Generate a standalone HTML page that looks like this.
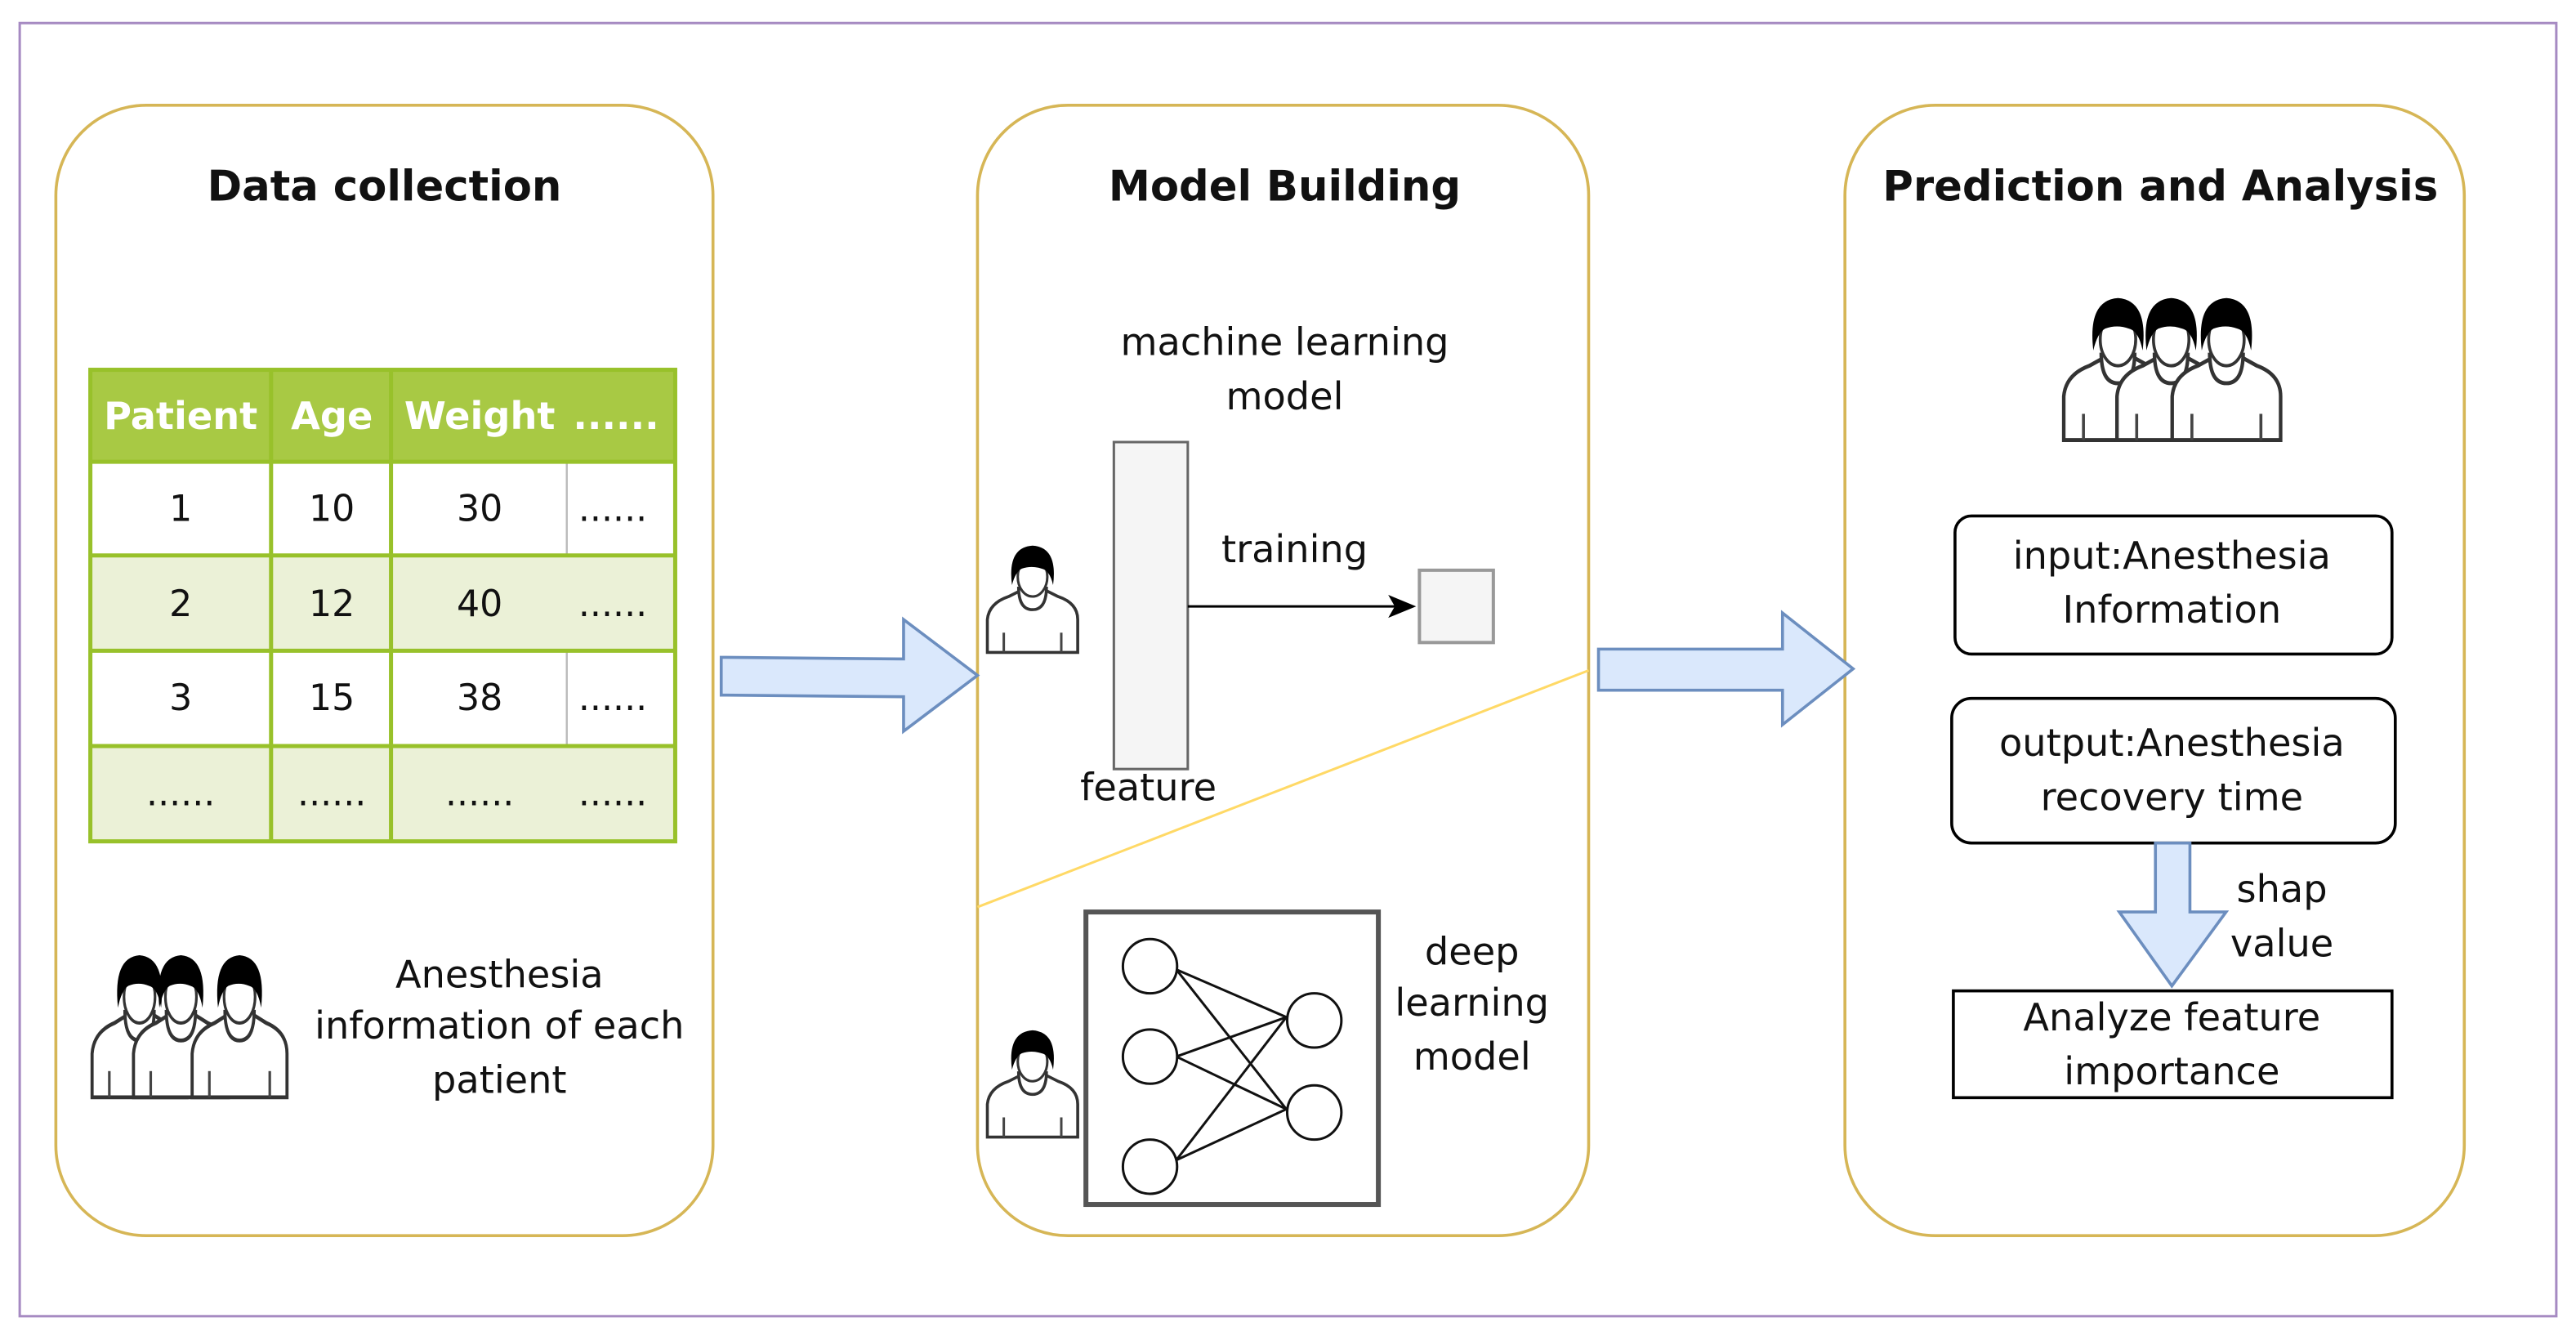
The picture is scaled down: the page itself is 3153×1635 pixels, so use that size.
<!DOCTYPE html>
<html><head><meta charset="utf-8"><style>
html,body{margin:0;padding:0;background:#fff;}
svg{display:block;}
text{font-family:"DejaVu Sans","Liberation Sans",sans-serif;}
</style></head><body>
<svg width="3153" height="1635" viewBox="0 0 1568 813" xmlns="http://www.w3.org/2000/svg">
<defs>
<g id="p">
  <path d="M1,66 L1,46 Q2,36 14,32 L22,28 L36,28 L44,32 Q56,36 56,46 L56,66 Z" fill="#fff" stroke="#333" stroke-width="1.8"/>
  <path d="M20,26 Q20,40 28.5,40 Q37,40 37,26" fill="#fff" stroke="#333" stroke-width="1.8"/>
  <ellipse cx="28.5" cy="20" rx="9" ry="12" fill="#fff" stroke="#333" stroke-width="1.5"/>
  <path d="M16,25 Q13,2 28.5,1 Q44,2 41,25 Q39,16 34,15 Q28,13 22,15 Q18,17 16,25 Z" fill="#000"/>
  <line x1="11" y1="54" x2="11" y2="66" stroke="#444" stroke-width="1.5"/>
  <line x1="46" y1="54" x2="46" y2="66" stroke="#444" stroke-width="1.5"/>
</g>
</defs>
<rect x="12" y="14" width="1544" height="787" fill="none" stroke="#a68ac2" stroke-width="1.5"/>
<rect x="34" y="64" width="400" height="688" rx="55" fill="#fff" stroke="#d6b656" stroke-width="1.8"/>
<rect x="595" y="64" width="372" height="688" rx="55" fill="#fff" stroke="#d6b656" stroke-width="1.8"/>
<rect x="1123" y="64" width="377" height="688" rx="55" fill="#fff" stroke="#d6b656" stroke-width="1.8"/>
<g font-size="25.5" font-weight="bold" text-anchor="middle" fill="#111">
<text x="234" y="122">Data collection</text>
<text x="782" y="122">Model Building</text>
<text x="1315" y="122">Prediction and Analysis</text>
</g>
<rect x="55" y="225" width="356" height="56" fill="#a8c944"/>
<rect x="55" y="338" width="356" height="58" fill="#ebf1d7"/>
<rect x="55" y="454" width="356" height="58" fill="#ebf1d7"/>
<line x1="345" y1="281" x2="345" y2="338" stroke="#bbb" stroke-width="1.2"/>
<line x1="345" y1="396" x2="345" y2="454" stroke="#bbb" stroke-width="1.2"/>
<g stroke="#98c12a" stroke-width="2.5" fill="none">
<rect x="55" y="225" width="356" height="287"/>
<line x1="165" y1="225" x2="165" y2="512"/><line x1="238" y1="225" x2="238" y2="512"/>
<line x1="55" y1="281" x2="411" y2="281"/><line x1="55" y1="338" x2="411" y2="338"/>
<line x1="55" y1="396" x2="411" y2="396"/><line x1="55" y1="454" x2="411" y2="454"/>
</g>
<g font-size="23" text-anchor="middle" fill="#fff" font-weight="bold">
<text x="110" y="261">Patient</text><text x="202" y="261">Age</text><text x="292" y="261">Weight</text><text x="375" y="261">......</text>
</g>
<g font-size="22" text-anchor="middle" fill="#111">
<text x="110" y="317">1</text><text x="202" y="317">10</text><text x="292" y="317">30</text><text x="373" y="317">......</text>
<text x="110" y="375">2</text><text x="202" y="375">12</text><text x="292" y="375">40</text><text x="373" y="375">......</text>
<text x="110" y="432">3</text><text x="202" y="432">15</text><text x="292" y="432">38</text><text x="373" y="432">......</text>
<text x="110" y="490">......</text><text x="202" y="490">......</text><text x="292" y="490">......</text><text x="373" y="490">......</text>
</g>
<g transform="translate(55,580) scale(1.05,1.33)">
<use href="#p" x="0" y="0"/><use href="#p" x="24" y="0"/><use href="#p" x="58" y="0"/>
</g>
<g font-size="23" text-anchor="middle" fill="#111">
<text x="304" y="601">Anesthesia</text><text x="304" y="632">information of each</text><text x="304" y="665">patient</text>
</g>
<path d="M439,400 L550,401 L550,377 L595,411 L550,445 L550,424 L439,423 Z" fill="#dae8fc" stroke="#6c8ebf" stroke-width="1.8"/>
<path d="M973,395 L1085,395 L1085,373 L1128,407 L1085,441 L1085,420 L973,420 Z" fill="#dae8fc" stroke="#6c8ebf" stroke-width="1.8"/>
<g font-size="23" text-anchor="middle" fill="#111">
<text x="782" y="216">machine learning</text><text x="782" y="249">model</text>
<text x="788" y="342">training</text><text x="699" y="487">feature</text>
<text x="896" y="587">deep</text><text x="896" y="618">learning</text><text x="896" y="651">model</text>
</g>
<rect x="678" y="269" width="45" height="199" fill="#f5f5f5" stroke="#666" stroke-width="1.5"/>
<line x1="723" y1="369" x2="855" y2="369" stroke="#000" stroke-width="1.5"/>
<path d="M862,369 L845,362 L849,369 L845,376 Z" fill="#000"/>
<rect x="864" y="347" width="45" height="44" fill="#f5f5f5" stroke="#999" stroke-width="2"/>
<line x1="595" y1="552" x2="967" y2="408" stroke="#ffd966" stroke-width="1.5"/>
<use href="#p" x="600" y="331"/>
<use href="#p" x="600" y="626"/>
<rect x="661" y="555" width="178" height="178" fill="#fff" stroke="#555" stroke-width="3"/>
<g stroke="#111" stroke-width="1.5" fill="none">
<line x1="716" y1="590" x2="783" y2="619"/><line x1="716" y1="590" x2="783" y2="675"/>
<line x1="716" y1="643" x2="783" y2="619"/><line x1="716" y1="643" x2="783" y2="675"/>
<line x1="716" y1="706" x2="783" y2="619"/><line x1="716" y1="706" x2="783" y2="675"/>
<circle cx="700" cy="588" r="16.5" fill="#fff"/><circle cx="700" cy="643" r="16.5" fill="#fff"/><circle cx="700" cy="710" r="16.5" fill="#fff"/>
<circle cx="800" cy="621" r="16.5" fill="#fff"/><circle cx="800" cy="677" r="16.5" fill="#fff"/>
</g>
<g transform="translate(1255,180) scale(1.2,1.33)">
<use href="#p" x="0" y="0"/><use href="#p" x="27" y="0"/><use href="#p" x="55" y="0"/>
</g>
<rect x="1190" y="314" width="266" height="84" rx="10" fill="#fff" stroke="#000" stroke-width="1.8"/>
<rect x="1188" y="425" width="270" height="88" rx="12" fill="#fff" stroke="#000" stroke-width="1.8"/>
<rect x="1189" y="603" width="267" height="65" fill="#fff" stroke="#000" stroke-width="1.8"/>
<path d="M1312,513 L1333,513 L1333,555 L1355,555 L1322,600 L1290,555 L1312,555 Z" fill="#dae8fc" stroke="#6c8ebf" stroke-width="1.8"/>
<g font-size="23" text-anchor="middle" fill="#111">
<text x="1322" y="346">input:Anesthesia</text><text x="1322" y="379">Information</text>
<text x="1322" y="460">output:Anesthesia</text><text x="1322" y="493">recovery time</text>
<text x="1389" y="549">shap</text><text x="1389" y="582">value</text>
<text x="1322" y="627">Analyze feature</text><text x="1322" y="660">importance</text>
</g>
</svg>
</body></html>
